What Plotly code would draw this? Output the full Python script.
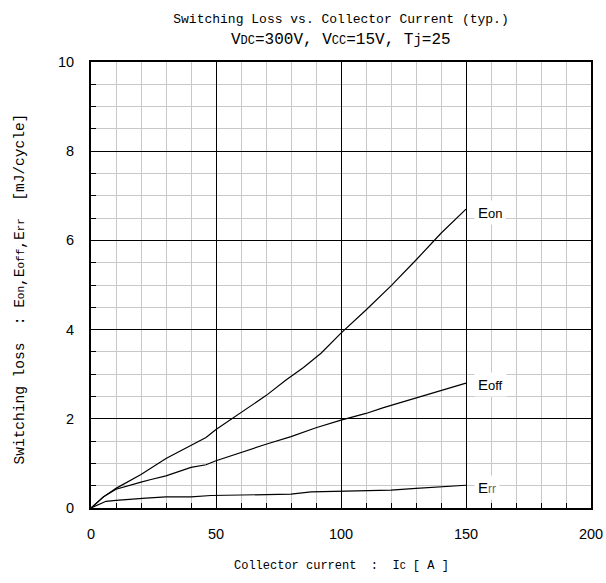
import plotly.graph_objects as go

# Data
eon_x = [0, 5, 10, 14, 20, 30, 40, 46, 50, 60, 70, 78, 85, 92, 100, 110, 120, 130, 140, 150]
eon_y = [0, 0.25, 0.44, 0.57, 0.75, 1.11, 1.40, 1.58, 1.76, 2.15, 2.52, 2.87, 3.15, 3.47, 3.92, 4.44, 4.98, 5.56, 6.16, 6.70]

eoff_x = [0, 5, 10, 14, 20, 24, 30, 40, 46, 50, 60, 70, 80, 90, 100, 110, 117, 130, 138, 150]
eoff_y = [0, 0.25, 0.42, 0.49, 0.58, 0.64, 0.72, 0.91, 0.97, 1.06, 1.25, 1.43, 1.60, 1.80, 1.97, 2.12, 2.25, 2.46, 2.59, 2.80]

err_x = [0, 4, 6, 10, 18, 22, 30, 40, 48, 60, 80, 88, 96, 105, 115, 120, 130, 140, 150]
err_y = [0, 0.10, 0.15, 0.17, 0.21, 0.22, 0.25, 0.25, 0.28, 0.29, 0.31, 0.36, 0.37, 0.37, 0.38, 0.40, 0.44, 0.47, 0.51]

x_ticks = [0, 50, 100, 150, 200]
y_ticks = [0, 2, 4, 6, 8, 10]

label_names = ["E<span style='font-size:13px'>on</span>",
               "E<span style='font-size:13px'>off</span>",
               "E<span style='font-size:12px;fill:#666'>rr</span>"]
label_y = [6.62, 2.78, 0.45]

MONO = "Liberation Mono"
SANS = "Liberation Sans"

FIG_W, FIG_H = 606, 583

fig = go.Figure()
for xs, ys in [(eon_x, eon_y), (eoff_x, eoff_y), (err_x, err_y)]:
    fig.add_trace(go.Scatter(x=xs, y=ys, mode="lines",
                             line=dict(color="black", width=1.2),
                             showlegend=False, hoverinfo="skip"))

for name, ly in zip(label_names, label_y):
    fig.add_annotation(x=153, y=ly, xref="x", yref="y", text=name,
                       showarrow=False, xanchor="left", yanchor="middle",
                       bgcolor="white", borderpad=3,
                       font=dict(family=SANS, size=15, color="black"))

# subtitle
fig.add_annotation(
    x=0.5, y=1.049, xref="paper", yref="paper", showarrow=False,
    xanchor="center", yanchor="middle",
    text="V<span style='font-size:12px'>DC</span>=300V, V<span style='font-size:12px'>CC</span>=15V, "
         "T<span style='font-size:14px'>j</span>=25",
    font=dict(family=MONO, size=16, color="black"),
)

# y-axis title
fig.add_annotation(
    x=-0.142, y=0.49, xref="paper", yref="paper", showarrow=False,
    xanchor="center", yanchor="middle", textangle=-90,
    text="Switching loss  : E<span style='font-size:11px'>on</span>,E<span style='font-size:11px'>off</span>,"
         "E<span style='font-size:11px'>rr</span>  [mJ/cycle]",
    font=dict(family=MONO, size=14.5, color="black"),
)

# x-axis title
fig.add_annotation(
    x=0.5, y=-0.130, xref="paper", yref="paper", showarrow=False,
    xanchor="center", yanchor="middle",
    text="Collector current  :  I<span style='font-size:10px'>C</span> [ A ]",
    font=dict(family=MONO, size=12, color="black"),
)

fig.update_layout(
    width=FIG_W, height=FIG_H,
    margin=dict(l=91, r=15, t=62, b=75, autoexpand=False),
    paper_bgcolor="white", plot_bgcolor="white",
    title=dict(
        text="Switching Loss vs. Collector Current (typ.)",
        x=0.5, xref="paper", xanchor="center",
        y=1 - 18 / FIG_H, yref="container", yanchor="middle",
        font=dict(family=MONO, size=13, color="black"),
    ),
    xaxis=dict(
        range=[0, 200], tickvals=x_ticks, ticktext=[str(v) for v in x_ticks],
        showgrid=True, gridcolor="black", gridwidth=1,
        ticks="inside", ticklen=5, tickcolor="black",
        showline=True, linecolor="black", linewidth=2, mirror=True,
        zeroline=False, automargin=False, ticklabeloverflow="allow",
        tickfont=dict(family=SANS, size=14.5, color="black"),
        ticklabelstandoff=12,
        minor=dict(dtick=10, showgrid=True, gridcolor="#c8c8c8", gridwidth=1,
                   ticks="inside", ticklen=5, tickcolor="black"),
    ),
    yaxis=dict(
        range=[0, 10], tickvals=y_ticks, ticktext=[str(v) for v in y_ticks],
        showgrid=True, gridcolor="black", gridwidth=1,
        ticks="inside", ticklen=5, tickcolor="black",
        showline=True, linecolor="black", linewidth=2, mirror=True,
        zeroline=False, automargin=False, ticklabeloverflow="allow",
        tickfont=dict(family=SANS, size=14.5, color="black"),
        ticklabelstandoff=12,
        minor=dict(dtick=0.5, showgrid=True, gridcolor="#c8c8c8", gridwidth=1,
                   ticks="inside", ticklen=5, tickcolor="black"),
    ),
)

fig.write_html("out.html",
               config={"displayModeBar": False},
               post_script="document.body.style.margin='0';document.body.style.overflow='hidden';")
